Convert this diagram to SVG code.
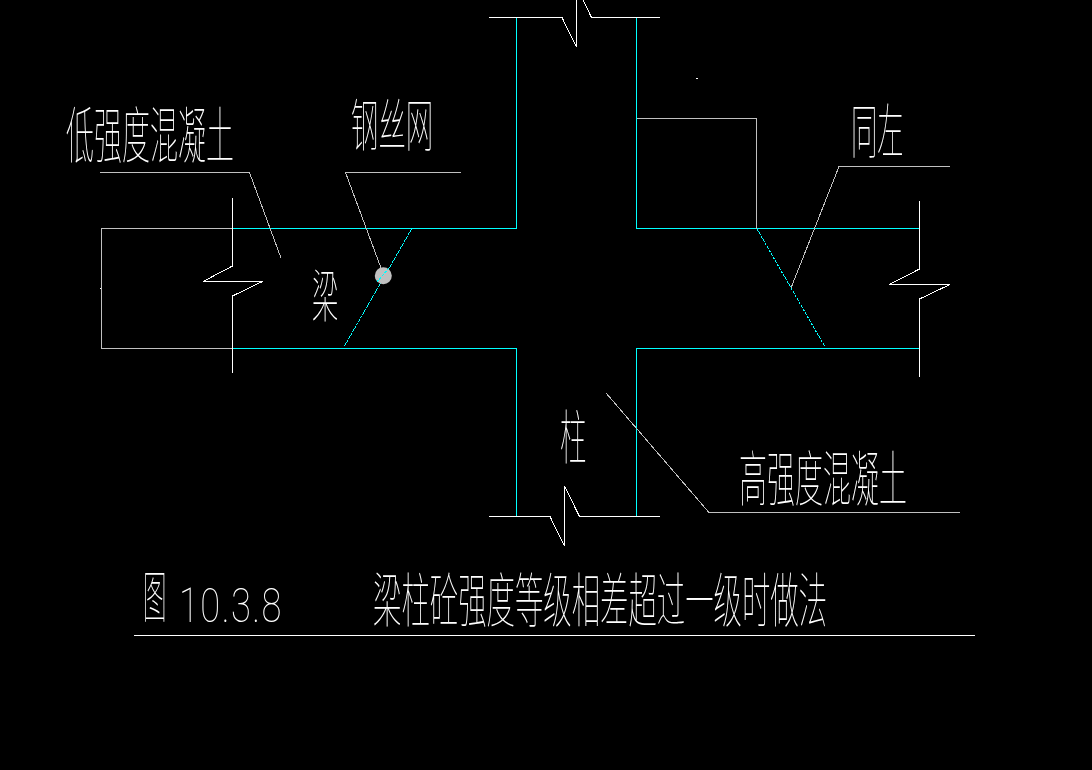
<svg xmlns="http://www.w3.org/2000/svg" width="1092" height="770" viewBox="0 0 1092 770">
<defs>
<filter id="gs" filterUnits="userSpaceOnUse" x="0" y="0" width="1092" height="770" color-interpolation-filters="sRGB"><feOffset dx="0" dy="0"/></filter>
</defs>
<style>
path,line,polyline{fill:none;stroke-width:1;shape-rendering:crispEdges}
.c{stroke:#00ffff}
.cd{stroke:#00ffff;stroke-dasharray:3 1}
.g{stroke:#c0c0c0}
.w{stroke:#fff}
.t{filter:url(#gs)}
text{fill:#fff;font-family:"Noto Sans CJK SC","Noto Sans",sans-serif;font-weight:100;font-size:56px}
text.n{font-family:Roboto,"Liberation Sans",sans-serif;font-weight:100;font-size:49px;letter-spacing:2px}
</style>
<rect width="1092" height="770" fill="#000"/>
<g id="structure">
<path class="c" d="M516.5 17V228.5H233M636.5 17V228.5H919M233 348.5H516.5V516M919 348.5H636.5V516"/>
<path class="cd" d="M411.5 229L344 347M757 229L825 347"/>
<path class="g" d="M232.5 228.5H101.500V348.500H232.500M636.500 118.500H756.500V228.500"/>
<path class="w" d="M489 17.500H562L576.500 47V0M583 0L591.500 17.500H660M489 516.500H550L564.500 546V486L579.500 516.500H660"/>
<path class="w" d="M232.500 198V266L203 281.500H262.500L232.500 296V373M919.500 201V269L889.500 284.500H950L919.500 299V377"/>
<path class="w" d="M696 78.500H697.500M100 288.500H101"/>
</g>
<g id="leaders">
<path class="g" d="M100 172.500H249.500L281 258M461 172.500H345.500L381 268M950 166.500H839L791 288M606 393L709 512.500H960"/>
<circle cx="383.300" cy="275.700" r="8.500" fill="#c0c0c0"/>
<line class="cd" x1="389" y1="268" x2="376" y2="283"/>
</g>
<g id="labels" class="t">
<text transform="translate(66 157.500) scale(.5 1.100)">低强度混凝土</text>
<text transform="translate(351 146) scale(.49 1.020)">钢丝网</text>
<text transform="translate(851 153) scale(.47 1.050)">同左</text>
<text transform="translate(312 317) scale(.47 1.020)">梁</text>
<text transform="translate(560 459) scale(.47 1.050)">柱</text>
<text transform="translate(739 501) scale(.5 1.080)">高强度混凝土</text>
</g>
<g id="caption">
<g class="t">
<text transform="translate(143 617) scale(.42 1)">图</text>
<text class="n" transform="translate(179 622) scale(.74 1)">10.3.8</text>
<text transform="translate(373 622) scale(.507 1.050)">梁柱砼强度等级相差超过一级时做法</text>
</g>
<path class="w" d="M134 635.500H975"/>
</g>
</svg>
